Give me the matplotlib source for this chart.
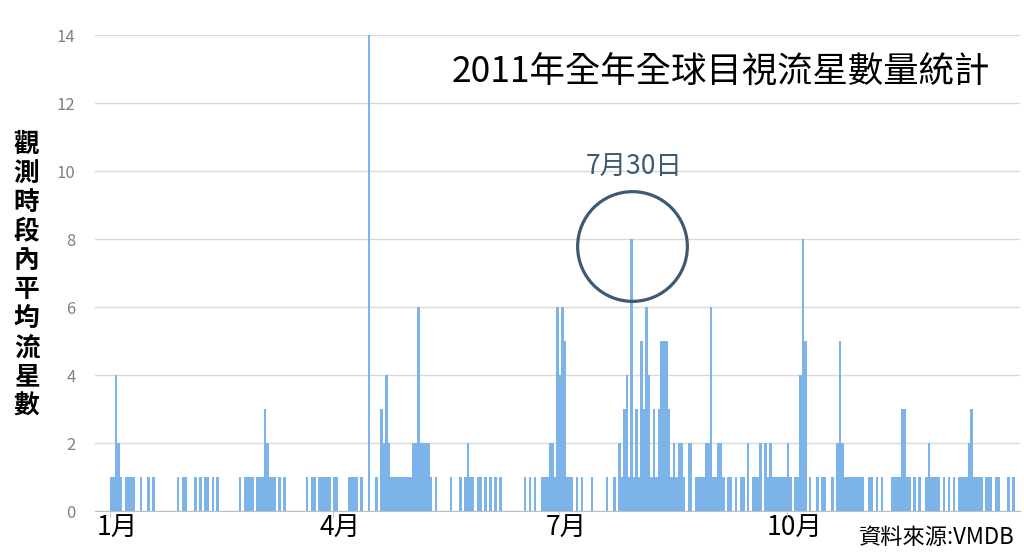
import numpy as np
import matplotlib
matplotlib.use('Agg')
import matplotlib.pyplot as plt

plt.rcParams['font.family'] = ['Noto Sans CJK TC', 'DejaVu Sans']

# daily average meteors per observing period, 2011
jan = [1, 1, 4, 2, 1, 0, 1, 1, 1, 1, 0, 0, 1, 0, 0, 1, 0, 1, 0, 0,
       0, 0, 0, 0, 0, 0, 0, 1, 0, 1, 1]
feb = [0, 0, 0, 1, 0, 1, 0, 1, 1, 0, 1, 0, 1, 0, 0, 0, 0, 0, 0, 0,
       0, 1, 0, 1, 1, 1, 1, 0]
mar = [1, 1, 1, 3, 2, 1, 1, 1, 0, 1, 0, 1, 0, 0, 0, 0, 0, 0, 0, 0,
       1, 0, 1, 1, 0, 1, 1, 1, 1, 1, 0]
apr = [1, 1, 0, 0, 0, 0, 1, 1, 1, 1, 0, 1, 0, 0, 14, 0, 0, 1, 0, 3,
       2, 4, 2, 1, 1, 1, 1, 1, 1, 1]
may = [1, 1, 2, 2, 6, 2, 2, 2, 2, 1, 0, 1, 0, 0, 0, 0, 0, 1, 0, 0,
       0, 1, 0, 1, 2, 1, 1, 0, 1, 1, 0]
jun = [1, 0, 1, 0, 1, 0, 1, 0, 0, 0, 0, 0, 0, 0, 0, 0, 1, 0, 1, 0,
       1, 0, 0, 1, 1, 1, 2, 2, 1, 6]
jul = [4, 6, 5, 1, 1, 1, 0, 1, 0, 1, 0, 0, 0, 1, 0, 0, 0, 0, 0, 1,
       0, 0, 1, 0, 2, 1, 3, 4, 1, 8, 1]
aug = [3, 1, 5, 3, 6, 4, 1, 3, 1, 3, 5, 5, 5, 3, 1, 2, 1, 2, 2, 1,
       0, 2, 2, 0, 1, 1, 1, 1, 2, 2, 6]
sep = [1, 1, 2, 2, 1, 0, 1, 1, 0, 1, 0, 1, 1, 0, 2, 0, 1, 1, 1, 2,
       0, 2, 1, 2, 1, 1, 1, 1, 1, 1]
oct_ = [2, 1, 0, 1, 1, 4, 8, 5, 0, 1, 0, 0, 1, 0, 1, 1, 0, 0, 1, 0,
        2, 5, 2, 1, 1, 1, 1, 1, 1, 1, 1]
nov = [0, 0, 1, 1, 0, 1, 0, 1, 0, 0, 0, 1, 1, 1, 1, 3, 3, 1, 1, 0,
       1, 0, 1, 0, 0, 1, 2, 1, 1, 1]
dec = [1, 0, 1, 0, 1, 0, 1, 0, 1, 1, 1, 1, 2, 3, 1, 1, 1, 1, 0, 1,
       1, 1, 0, 1, 1, 0, 0, 0, 1, 0, 1]

months = [jan, feb, mar, apr, may, jun, jul, aug, sep, oct_, nov, dec]
quarter_labels = ['1月', '4月', '7月', '10月']

values = np.concatenate(months)
days = np.arange(len(values))
month_start = np.cumsum([0] + [len(m) for m in months[:-1]])
quarter_start = month_start[::3]
peak_day = month_start[6] + int(np.argmax(jul))  # 7月30日

fig = plt.figure(figsize=(10.24, 5.58), dpi=100)
ax = fig.add_axes([0.0928, 0.0842, 0.903, 0.853])

ax.bar(days, values, width=1.0, align='edge', color='#7cb3e9', linewidth=0)

ax.set_xlim(-6, len(values) + 2)
ax.set_ylim(0, 14)
ax.set_yticks(range(0, 15, 2))
ax.grid(axis='y', color='#d9d9d9', linewidth=1)
ax.set_axisbelow(True)
for s in ['top', 'right', 'left']:
    ax.spines[s].set_visible(False)
ax.spines['bottom'].set_color('#bfbfbf')
ax.tick_params(axis='y', length=0, labelsize=12, labelcolor='#808080', pad=14)

ax.set_xticks(quarter_start + 3)
ax.set_xticklabels(quarter_labels, fontweight='medium')
ax.set_xticks(quarter_start, minor=True)
ax.tick_params(axis='x', which='major', length=0, labelsize=19, pad=3)
ax.tick_params(axis='x', which='minor', length=4, color='#bfbfbf')

# circle around the 7/30 peak
ax.plot(peak_day + 0.5, 7.8, marker='o', ms=79, mfc='none', mec='#3d5a72',
        mew=2.3, clip_on=False)
ax.text(peak_day + 1.5, 10.1, '7月30日', ha='center', va='center',
        fontsize=19, color='#3d5a72')

fig.text(0.704, 0.869, '2011年全年全球目視流星數量統計', ha='center', va='center',
         fontsize=25.5)
fig.text(0.026, 0.507, '\n'.join('觀測時段內平均流星數'), ha='center', va='center',
         fontsize=18.5, fontweight='bold', linespacing=1.1)
fig.text(0.991, 0.036, '資料來源:VMDB', ha='right', va='center', fontsize=16)

fig.savefig('out.png', dpi=100)
